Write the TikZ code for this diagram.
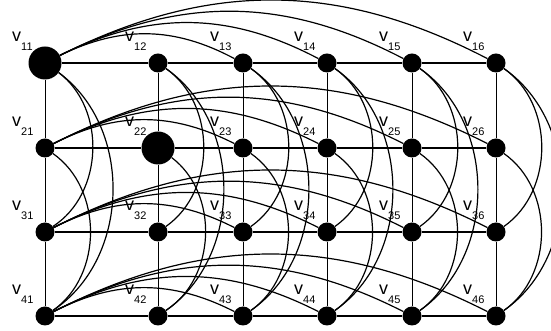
\documentclass[tikz,border=0pt]{standalone}
\usepackage{fontspec}
\setmainfont{Liberation Sans}
\usetikzlibrary{calc}

\newcommand{\vname}[1]{v\raisebox{-8.5pt}{\fontsize{11}{11}\selectfont #1}}

\begin{document}
\begin{tikzpicture}[
    x=1pt, y=1pt,
    vertex/.style={
        circle, fill=black, inner sep=0pt, minimum size=19pt
    },
    bigvertex/.style={
        vertex, minimum size=33pt
    },
    vlabel/.style={
        inner sep=0pt, anchor=base west,
        font=\fontsize{18}{18}\selectfont
    },
    link/.style={
        line width=1.2pt, draw=black
    },
    rowarc/.style={
        link, bend left=27
    },
    colarc/.style={
        link, bend left=55
    }
]
\useasboundingbox (0,0) rectangle (551,331);

% Vertices (4 rows x 6 columns)
\foreach \r/\y in {1/268,2/183,3/99,4/15}
  \foreach \c/\x in {1/45,2/158,3/243,4/327,5/412,6/496}
    \node[vertex] (v\r\c) at (\x,\y) {};

% the two large ones
\node[bigvertex] (v11) at (v11) {};
\node[bigvertex] (v22) at (v22) {};

% — Straight links —
\foreach \r in {1,...,4}
  \foreach \c/\n in {1/2,2/3,3/4,4/5,5/6}
    \draw[link] (v\r\c) -- (v\r\n);
\foreach \c in {1,...,6}
  \foreach \r/\n in {1/2,2/3,3/4}
    \draw[link, line width=0.9pt] (v\r\c) -- (v\n\c);

% — Arcs along the rows —
\foreach \r in {1,...,4}
  \foreach \c in {3,...,6}
    \draw[rowarc] (v\r1) to (v\r\c);

% — Arcs along the columns —
\foreach \c in {1,...,6}
  \foreach \a/\b in {1/3,1/4,2/4}
    \draw[colarc] (v\a\c) to (v\b\c);

% — Labels —
\foreach \r in {1,...,4}
  \foreach \c in {1,...,6}
    \node[vlabel] (l\r\c) at ($(v\r\c.center)+(-33,21)$) {\vname{\r\c}};

\end{tikzpicture}
\end{document}
